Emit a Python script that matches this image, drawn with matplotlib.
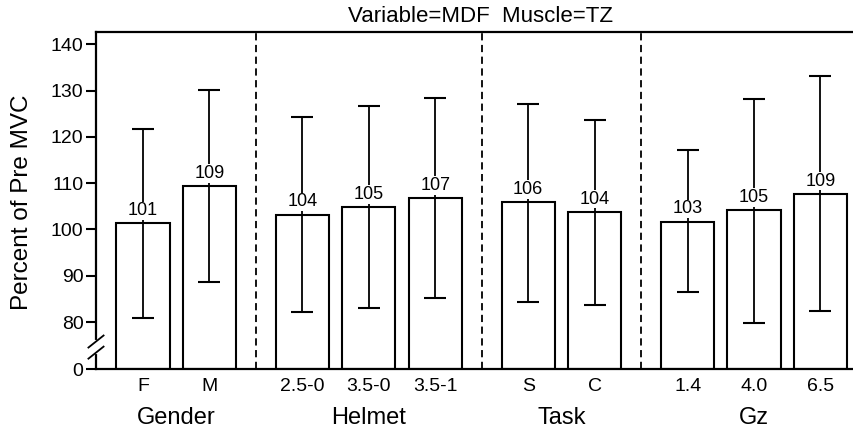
import matplotlib
matplotlib.use("Agg")
import matplotlib.pyplot as plt
import matplotlib.transforms as mtransforms

plt.rcParams['font.family'] = ['Liberation Sans', 'DejaVu Sans']

# ---- data ----
categories = ["F", "M", "2.5-0", "3.5-0", "3.5-1", "S", "C", "1.4", "4.0", "6.5"]
groups = ["Gender", "Helmet", "Task", "Gz"]
group_sizes = [2, 3, 2, 3]
means = [101.3, 109.4, 103.2, 104.8, 106.8, 105.9, 103.8, 101.7, 104.2, 107.7]
value_labels = ["101", "109", "104", "105", "107", "106", "104", "103", "105", "109"]
err_high = [121.7, 130.1, 124.3, 126.6, 128.4, 127.1, 123.7, 117.1, 128.2, 133.2]
err_low = [80.9, 88.6, 82.2, 83.0, 85.2, 84.4, 83.6, 86.4, 79.9, 82.3]
ytick_values = [0, 80, 90, 100, 110, 120, 130, 140]
title = "Variable=MDF  Muscle=TZ"
ylabel = "Percent of Pre MVC"

# ---- layout ----
BASE = 69.8          # where "0" sits on the broken axis
GAP = 0.4            # extra space between groups
W = 854 / 100.0
H = 432 / 100.0
fig = plt.figure(figsize=(W, H), dpi=100)
ax = fig.add_axes([96 / 854, (432 - 369.3) / 432, (853 - 96) / 854, (369.3 - 32) / 432])

# x positions
xpos = []
group_centers = []
sep_positions = []
x = 0.0
for gi, n in enumerate(group_sizes):
    start = x
    for _ in range(n):
        xpos.append(x)
        x += 1.0
    group_centers.append((start + x - 1.0) / 2)
    if gi < len(group_sizes) - 1:
        sep_positions.append(x - 0.5 + GAP / 2)
    x += GAP

def ymap(v):
    return BASE if v == 0 else v

heights = [m - BASE for m in means]
ax.bar(xpos, heights, bottom=BASE, width=0.8, facecolor="white",
       edgecolor="black", linewidth=1.5, zorder=2)

lower = [m - lo for m, lo in zip(means, err_low)]
upper = [hi - m for m, hi in zip(means, err_high)]
ax.errorbar(xpos, means, yerr=[lower, upper], fmt="none", ecolor="black",
            elinewidth=1.3, capsize=8, capthick=1.5, zorder=3)

for xp, m, lab in zip(xpos, means, value_labels):
    ax.annotate(lab, (xp, m), xytext=(0, 3), textcoords="offset points",
                ha="center", va="bottom", fontsize=13, zorder=4,
                bbox=dict(facecolor="white", edgecolor="none", pad=0.5))

for sp in sep_positions:
    ax.axvline(sp, color="black", linewidth=1.3, linestyle=(0, (4, 2.5)), zorder=1)

ax.set_xlim(-0.708, 10.69)
ax.set_ylim(BASE, 142.65)

ax.set_yticks([ymap(v) for v in ytick_values])
ax.set_yticklabels([str(v) for v in ytick_values], fontsize=14)
ax.tick_params(axis="y", direction="out", length=7, width=1.5, pad=2)
ax.set_xticks(xpos)
ax.set_xticklabels(categories, fontsize=14)
ax.tick_params(axis="x", length=0, pad=6)

for g, c in zip(groups, group_centers):
    ax.text(c, -0.145, g, transform=mtransforms.blended_transform_factory(ax.transData, ax.transAxes),
            ha="center", va="center", fontsize=17)

ax.spines["right"].set_visible(False)
for s in ["left", "top", "bottom"]:
    ax.spines[s].set_linewidth(1.6)

# axis break marks
trans = mtransforms.blended_transform_factory(ax.transAxes, ax.transData)
ax.plot([0, 0], [73.6, 75.6], color="white", linewidth=3, transform=trans, clip_on=False, zorder=5)
for yc in [73.4, 75.8]:
    ax.plot([-0.01, 0.01], [yc - 1.3, yc + 1.3], color="black", linewidth=1.3,
            transform=trans, clip_on=False, zorder=6)

fig.text(480.5 / 854, 1 - 16.7 / 432, title, ha="center", va="center", fontsize=16)
fig.text(22 / 854, 1 - 202 / 432, ylabel, ha="center", va="center", rotation=90, fontsize=17.5)

fig.savefig("out.png", dpi=100)
